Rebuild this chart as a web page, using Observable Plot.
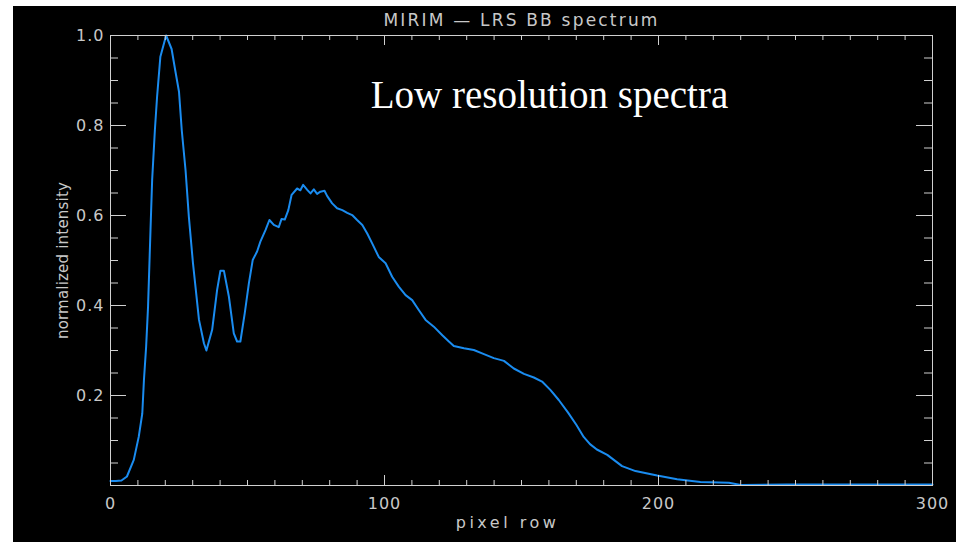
<!DOCTYPE html>
<html><head><meta charset="utf-8">
<script src="https://cdn.jsdelivr.net/npm/d3@7"></script>
<script src="https://cdn.jsdelivr.net/npm/@observablehq/plot@0.6"></script>
<style>
html,body{margin:0;padding:0;background:#fff;width:956px;height:542px;overflow:hidden}
#chart{position:absolute;left:13px;top:6px;width:943px;height:536px;background:#000}
#chart svg{display:block}
[aria-label="chart-title"], [aria-label="chart-title"] text{letter-spacing:2.2px}
[aria-label="x-label"], [aria-label="x-label"] text{letter-spacing:3.5px}
[aria-label="y-label"], [aria-label="y-label"] text{letter-spacing:0.2px}
[aria-label="tick-label"], [aria-label="tick-label"] text{letter-spacing:1px}
</style></head><body><div id="chart"></div>
<script>
const title = "MIRIM — LRS BB spectrum";
const xLabel = "pixel row";
const yLabel = "normalized intensity";
const annotation = "Low resolution spectra";

const pixelRow = [0,2,4,6,8.5,10.3,11.6,12.2,13.0,13.7,14.6,15.2,16.2,17.0,18.2,20.3,22.3,23.7,25.0,26.0,27.4,28.6,30.1,32.3,34.1,35.0,37.1,38.9,40.1,41.4,43.2,45.0,46.2,47.4,49.0,50.5,51.9,53.5,54.7,56.6,58.0,59.6,61.4,62.4,63.6,64.9,66.1,68.1,69.3,70.3,71.8,73.0,74.2,75.4,76.6,78.1,79.1,80.9,82.7,84.6,86.4,88.2,90.0,91.9,93.7,95.5,97.9,100.4,102.8,105.2,107.7,110.1,112.5,115.0,118.0,121.1,123.5,125.3,129.0,132.6,136.3,139.9,143.6,147.2,150.9,154.5,157.5,160.6,163.6,167.0,170.0,172.7,175.0,177.5,181.3,186.7,191.6,199.5,206.8,215.3,225.7,230,247,260,280,300];
const intensity = [0.010,0.010,0.011,0.020,0.057,0.108,0.160,0.234,0.308,0.397,0.568,0.679,0.790,0.864,0.953,1.000,0.970,0.920,0.875,0.790,0.700,0.597,0.494,0.368,0.316,0.300,0.346,0.434,0.477,0.477,0.420,0.338,0.320,0.320,0.383,0.449,0.501,0.520,0.542,0.568,0.590,0.579,0.574,0.592,0.591,0.612,0.646,0.660,0.656,0.668,0.657,0.649,0.658,0.648,0.653,0.655,0.643,0.627,0.616,0.612,0.606,0.601,0.590,0.579,0.560,0.538,0.508,0.494,0.464,0.442,0.423,0.412,0.390,0.368,0.353,0.334,0.320,0.310,0.305,0.301,0.292,0.283,0.277,0.260,0.248,0.240,0.231,0.212,0.190,0.162,0.135,0.108,0.092,0.080,0.068,0.043,0.032,0.022,0.014,0.008,0.006,0.001,0.002,0.002,0.002,0.002];

const xMajorTicks = [0,100,200,300];
const xMinorTicks = d3.range(0,301,10);
const yMajorTicks = [0.2,0.4,0.6,0.8,1.0];
const yMinorTicks = d3.range(0,21).map(i => i/20);
const yTickLabels = ["0.2","0.4","0.6","0.8","1.0"];

const data = pixelRow.map((x,i) => ({x, y: intensity[i]}));

const W = 943, H = 536, mL = 97, mT = 29, mR = 24, mB = 57;
const pW = W - mL - mR, pH = H - mT - mB;
const axisCol = "#d0d0d0", textCol = "#c8c8c8";
const sans = "DejaVu Sans";

const chart = Plot.plot({
  width: W, height: H,
  marginLeft: mL, marginTop: mT, marginRight: mR, marginBottom: mB,
  style: {background: "#000", color: textCol, fontFamily: sans},
  x: {domain: [0,300], axis: null},
  y: {domain: [0,1], axis: null},
  marks: [
    Plot.line(data, {x: "x", y: "y", stroke: "#1a8cf0", strokeWidth: 2, curve: "linear"}),
    Plot.frame({stroke: axisCol, strokeWidth: 1}),
    // x ticks bottom & top
    Plot.tickX(xMinorTicks, {x: d => d, insetTop: pH - 5, stroke: axisCol}),
    Plot.tickX(xMajorTicks, {x: d => d, insetTop: pH - 10, stroke: axisCol}),
    Plot.tickX(xMinorTicks, {x: d => d, insetBottom: pH - 5, stroke: axisCol}),
    Plot.tickX(xMajorTicks, {x: d => d, insetBottom: pH - 10, stroke: axisCol}),
    // y ticks left & right
    Plot.tickY(yMinorTicks, {y: d => d, insetRight: pW - 8, stroke: axisCol}),
    Plot.tickY(yMajorTicks, {y: d => d, insetRight: pW - 16, stroke: axisCol}),
    Plot.tickY(yMinorTicks, {y: d => d, insetLeft: pW - 8, stroke: axisCol}),
    Plot.tickY(yMajorTicks, {y: d => d, insetLeft: pW - 16, stroke: axisCol}),
    // tick labels
    Plot.text(xMajorTicks, {x: d => d, frameAnchor: "bottom", lineAnchor: "middle", dy: 18, text: d => String(d), fill: textCol, fontSize: 16, fontFamily: sans, ariaLabel: () => "tick-label"}),
    Plot.text(yMajorTicks, {y: d => d, frameAnchor: "left", dx: -6, textAnchor: "end", lineAnchor: "middle", text: (d,i) => yTickLabels[i], fill: textCol, fontSize: 16, fontFamily: sans, ariaLabel: () => "tick-label"}),
    // titles
    Plot.text([title], {frameAnchor: "top", lineAnchor: "middle", dy: -15, text: d => d, fill: textCol, fontSize: 17, fontFamily: sans, ariaLabel: () => "chart-title"}),
    Plot.text([xLabel], {frameAnchor: "bottom", lineAnchor: "middle", dx: -14, dy: 37, text: d => d, fill: textCol, fontSize: 16, fontFamily: sans, ariaLabel: () => "x-label"}),
    Plot.text([yLabel], {frameAnchor: "left", textAnchor: "middle", lineAnchor: "middle", dx: -47, rotate: -90, text: d => d, fill: textCol, fontSize: 15, fontFamily: sans, ariaLabel: () => "y-label"}),
    Plot.text([annotation], {frameAnchor: "top", lineAnchor: "middle", dx: 28, dy: 60, text: d => d, fill: "#fff", fontSize: 39, fontFamily: "Liberation Serif"})
  ]
});
document.getElementById("chart").appendChild(chart);
</script></body></html>
